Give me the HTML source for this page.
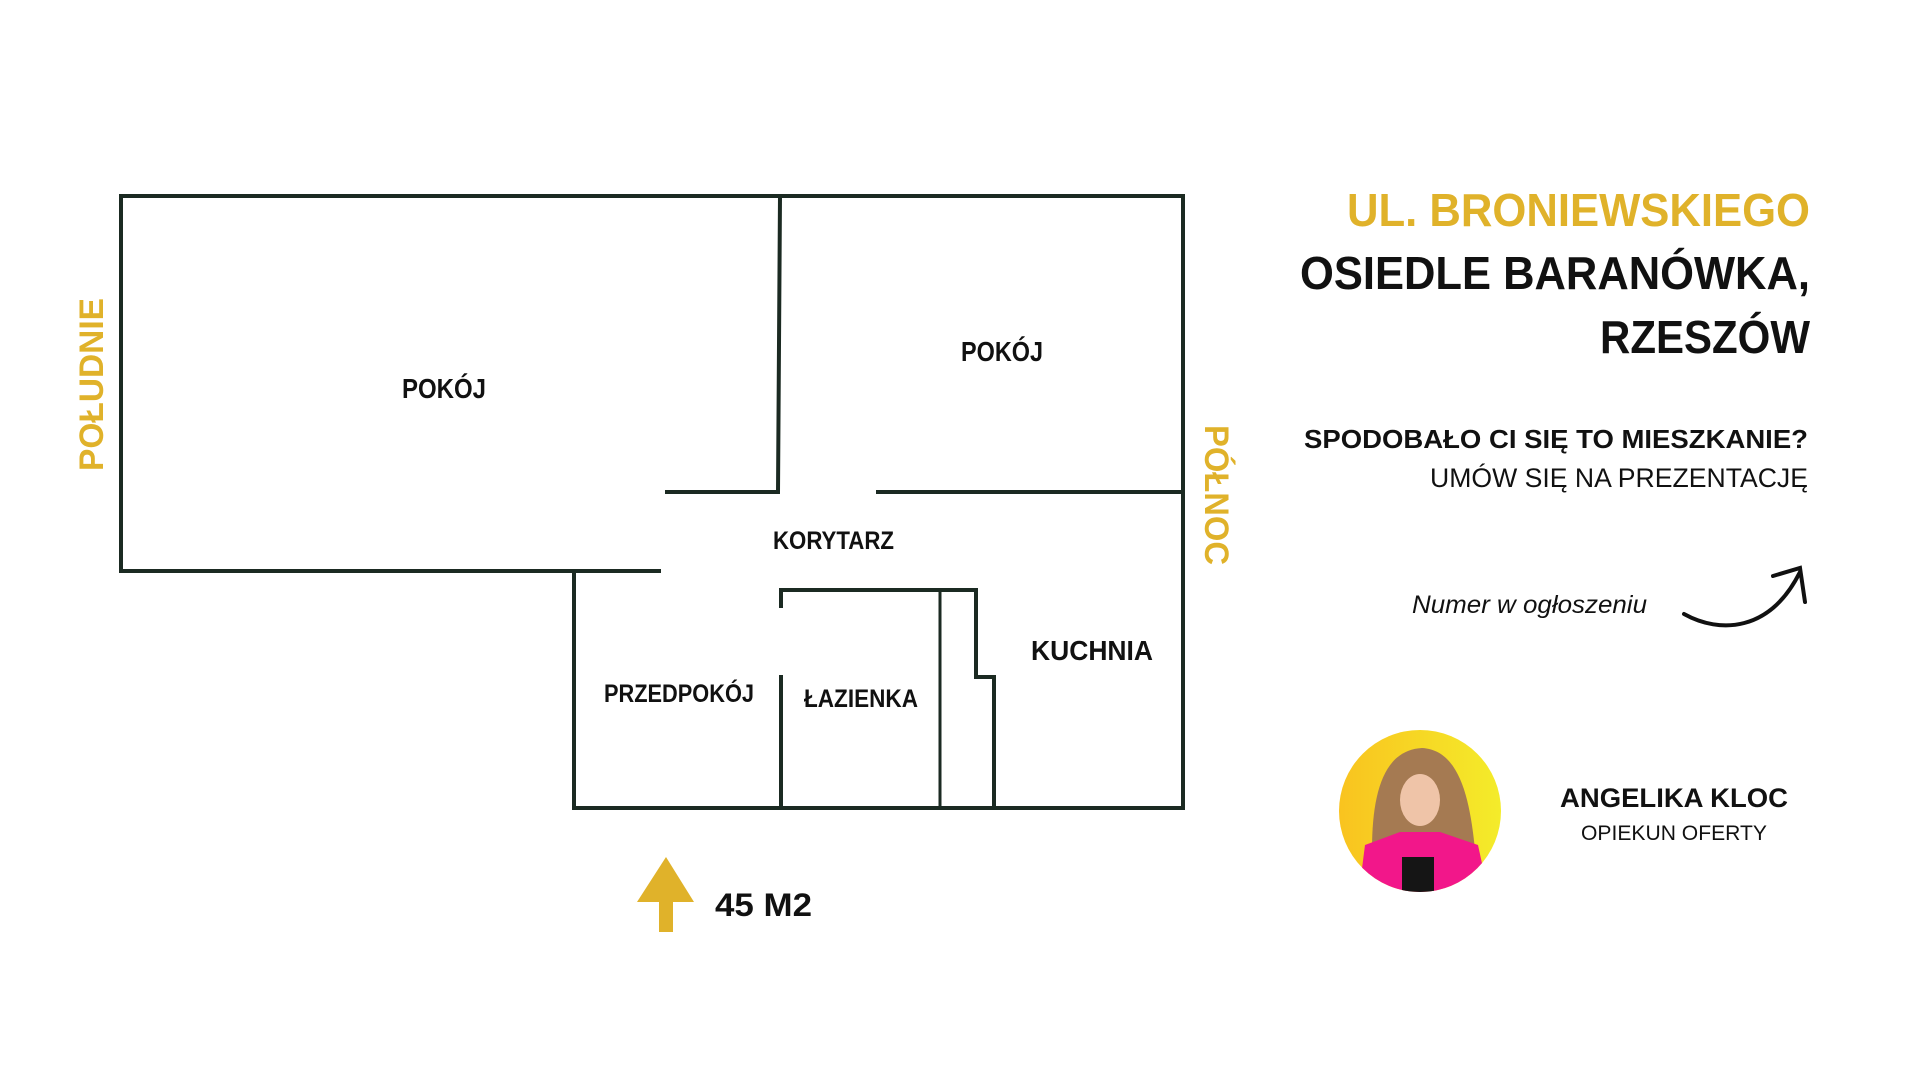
<!DOCTYPE html>
<html><head><meta charset="utf-8"><style>
html,body{margin:0;padding:0;background:#fff;width:1920px;height:1080px;overflow:hidden}
svg{display:block}
text{font-family:"Liberation Sans",sans-serif;font-weight:bold}
</style></head><body>
<svg width="1920" height="1080" viewBox="0 0 1920 1080" xmlns="http://www.w3.org/2000/svg">
<defs>
<linearGradient id="yg" x1="0" y1="0" x2="1" y2="0"><stop offset="0" stop-color="#f9c31f"/><stop offset="1" stop-color="#f4ec2a"/></linearGradient>
<clipPath id="cc"><circle cx="1420" cy="811" r="81"/></clipPath>
</defs>
<g stroke="#1b2a22" stroke-width="4" fill="none" stroke-linecap="square">
<polyline points="121,571 121,196 1183,196 1183,808 574,808 574,571"/>
<line x1="121" y1="571" x2="659" y2="571"/>
<polyline points="780,196 778,492 667,492"/>
<line x1="878" y1="492" x2="1183" y2="492"/>
<polyline points="781,606 781,590 976,590 976,677 994,677 994,808"/>
<line x1="781" y1="677" x2="781" y2="808"/>
<line x1="940" y1="590" x2="940" y2="808" stroke-width="3"/>
</g>
<g fill="#111">
<text x="402" y="398" font-size="28" textLength="84" lengthAdjust="spacingAndGlyphs">POKÓJ</text>
<text x="961" y="361" font-size="28" textLength="82" lengthAdjust="spacingAndGlyphs">POKÓJ</text>
<text x="773" y="549" font-size="25" textLength="121" lengthAdjust="spacingAndGlyphs">KORYTARZ</text>
<text x="1031" y="660" font-size="28" textLength="122" lengthAdjust="spacingAndGlyphs">KUCHNIA</text>
<text x="604" y="702" font-size="25" textLength="150" lengthAdjust="spacingAndGlyphs">PRZEDPOKÓJ</text>
<text x="804" y="707" font-size="25" textLength="114" lengthAdjust="spacingAndGlyphs">ŁAZIENKA</text>
<text x="715" y="916" font-size="32" textLength="97" lengthAdjust="spacingAndGlyphs">45 M2</text>
</g>
<polygon points="666,857 694,902 673,902 673,932 659,932 659,902 637,902" fill="#e0b22a"/>
<text transform="translate(103,471) rotate(-90)" font-size="34" fill="#e0b22a" textLength="173" lengthAdjust="spacingAndGlyphs">POŁUDNIE</text>
<text transform="translate(1205,425) rotate(90)" font-size="34" fill="#e0b22a" textLength="140" lengthAdjust="spacingAndGlyphs">PÓŁNOC</text>
<text x="1347" y="226" font-size="46" fill="#e0b22a" textLength="463" lengthAdjust="spacingAndGlyphs">UL. BRONIEWSKIEGO</text>
<text x="1300" y="289" font-size="46" fill="#111" textLength="510" lengthAdjust="spacingAndGlyphs">OSIEDLE BARANÓWKA,</text>
<text x="1600" y="353" font-size="46" fill="#111" textLength="210" lengthAdjust="spacingAndGlyphs">RZESZÓW</text>
<text x="1304" y="448" font-size="26" fill="#111" textLength="504" lengthAdjust="spacingAndGlyphs">SPODOBAŁO CI SIĘ TO MIESZKANIE?</text>
<text x="1430" y="487" font-size="27" fill="#111" style="font-weight:normal" textLength="378" lengthAdjust="spacingAndGlyphs">UMÓW SIĘ NA PREZENTACJĘ</text>
<text x="1412" y="613" font-size="25" fill="#111" style="font-weight:normal;font-style:italic" textLength="235" lengthAdjust="spacingAndGlyphs">Numer w ogłoszeniu</text>
<g stroke="#111" stroke-width="4" fill="none" stroke-linecap="round">
<path d="M1684,614 C1720,634 1770,632 1800,572"/>
<path d="M1773,576 L1800,568 L1805,602"/>
</g>
<circle cx="1420" cy="811" r="81" fill="url(#yg)"/>
<g clip-path="url(#cc)">
<path d="M1372,850 C1372,790 1385,750 1422,748 C1460,750 1470,800 1475,850 Z" fill="#a57a52"/>
<ellipse cx="1420" cy="800" rx="20" ry="26" fill="#efc4a8"/>
<path d="M1358,900 L1365,845 L1400,832 L1440,832 L1478,845 L1490,900 Z" fill="#f2178a"/>
<rect x="1402" y="857" width="32" height="45" fill="#151515"/>
</g>
<text x="1560" y="807" font-size="27" fill="#111" textLength="228" lengthAdjust="spacingAndGlyphs">ANGELIKA KLOC</text>
<text x="1581" y="840" font-size="21" fill="#111" style="font-weight:normal" textLength="186" lengthAdjust="spacingAndGlyphs">OPIEKUN OFERTY</text>
</svg>
</body></html>
